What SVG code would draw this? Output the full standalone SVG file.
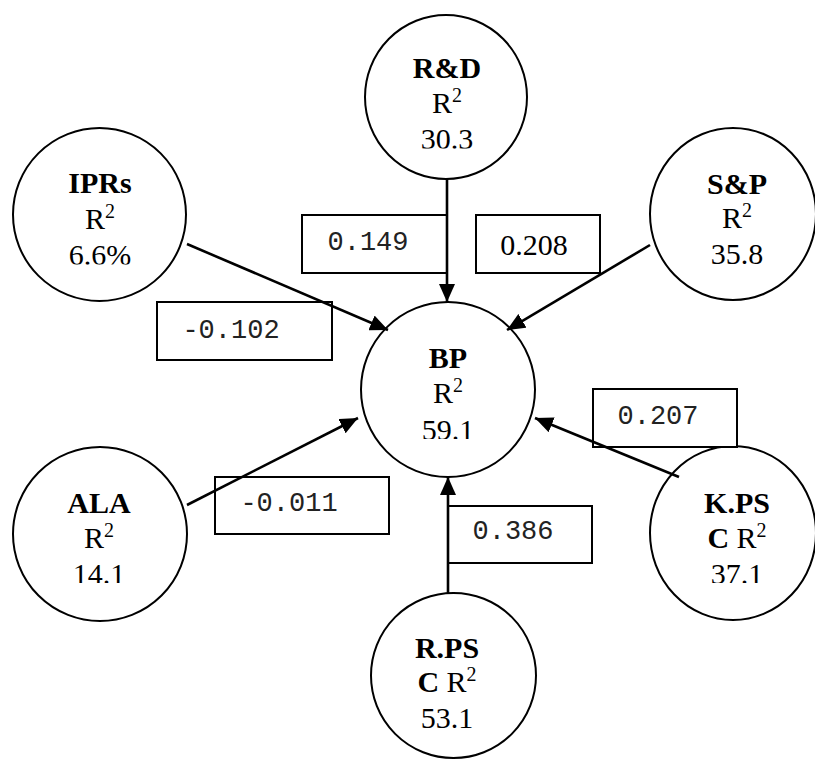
<svg xmlns="http://www.w3.org/2000/svg" width="815" height="762" viewBox="0 0 815 762">
  <style>
    .node { fill: #fff; stroke: #000; stroke-width: 2; }
    .lbl { font-family: "Liberation Serif", "Times New Roman", serif; font-size: 30px; fill: #000; text-anchor: middle; }
    .b { font-weight: bold; }
    .sup { font-size: 20px; }
    .box { fill: #fff; stroke: #000; stroke-width: 2; }
    .coef { font-family: "Liberation Mono", "Courier New", monospace; font-size: 27px; fill: #222; text-anchor: middle; }
    .coefs { font-family: "Liberation Serif", "Times New Roman", serif; font-size: 30px; fill: #000; text-anchor: middle; }
    .edge { stroke: #000; stroke-width: 2.6; fill: none; marker-end: url(#head); }
  </style>
  <defs>
    <marker id="head" markerUnits="userSpaceOnUse" markerWidth="18" markerHeight="16" refX="18" refY="8" orient="auto">
      <path d="M0,0 L18,8 L0,16 z" fill="#000"/>
    </marker>
    <!-- text frames that trim the last line of some nodes -->
    <clipPath id="clipRD"><rect x="360" y="0" width="180" height="148.5"/></clipPath>
    <clipPath id="clipIPR"><rect x="0" y="120" width="200" height="144.5"/></clipPath>
    <clipPath id="clipBP"><rect x="350" y="295" width="200" height="144"/></clipPath>
    <clipPath id="clipALA"><rect x="0" y="440" width="200" height="143"/></clipPath>
    <clipPath id="clipKPS"><rect x="640" y="440" width="175" height="143"/></clipPath>
  </defs>

  <rect width="815" height="762" fill="#fff"/>

  <!-- nodes -->
  <g id="node-rd">
    <ellipse class="node" cx="446" cy="97" rx="81" ry="82"/>
    <g clip-path="url(#clipRD)">
      <text class="lbl b" x="447" y="78">R&amp;D</text>
      <text class="lbl" x="447" y="113">R<tspan class="sup" dy="-11">2</tspan></text>
      <text class="lbl" x="447" y="149">30.3</text>
    </g>
  </g>

  <g id="node-iprs">
    <ellipse class="node" cx="99.5" cy="214.5" rx="86.5" ry="86.5"/>
    <g clip-path="url(#clipIPR)">
      <text class="lbl b" x="100" y="193">IPRs</text>
      <text class="lbl" x="100" y="229">R<tspan class="sup" dy="-11">2</tspan></text>
      <text class="lbl" x="100" y="265">6.6%</text>
    </g>
  </g>

  <g id="node-sp">
    <ellipse class="node" cx="733" cy="214" rx="83" ry="86"/>
    <text class="lbl b" x="737" y="194">S&amp;P</text>
    <text class="lbl" x="737" y="228">R<tspan class="sup" dy="-11">2</tspan></text>
    <text class="lbl" x="737" y="264">35.8</text>
  </g>

  <g id="node-bp">
    <ellipse class="node" cx="448" cy="389.5" rx="87" ry="87.5"/>
    <g clip-path="url(#clipBP)">
      <text class="lbl b" x="448" y="368">BP</text>
      <text class="lbl" x="448" y="403">R<tspan class="sup" dy="-11">2</tspan></text>
      <text class="lbl" x="448" y="440">59.1</text>
    </g>
  </g>

  <g id="node-ala">
    <ellipse class="node" cx="100" cy="534" rx="87" ry="87"/>
    <g clip-path="url(#clipALA)">
      <text class="lbl b" x="99" y="513">ALA</text>
      <text class="lbl" x="99" y="548">R<tspan class="sup" dy="-11">2</tspan></text>
      <text class="lbl" x="99" y="584">14.1</text>
    </g>
  </g>

  <g id="node-kpsc">
    <ellipse class="node" cx="733" cy="533" rx="83" ry="87"/>
    <g clip-path="url(#clipKPS)">
      <text class="lbl b" x="737" y="513">K.PS</text>
      <text class="lbl" x="737" y="548"><tspan class="b">C</tspan> R<tspan class="sup" dy="-11">2</tspan></text>
      <text class="lbl" x="737" y="584">37.1</text>
    </g>
  </g>

  <g id="node-rpsc">
    <ellipse class="node" cx="453.5" cy="675.5" rx="82.5" ry="82.5"/>
    <text class="lbl b" x="447" y="658">R.PS</text>
    <text class="lbl" x="447" y="692"><tspan class="b">C</tspan> R<tspan class="sup" dy="-11">2</tspan></text>
    <text class="lbl" x="447" y="728">53.1</text>
  </g>

  <!-- coefficient labels -->
  <g id="labels">
    <rect class="box" x="302" y="215" width="145" height="58"/>
    <text class="coef" x="368" y="250">0.149</text>

    <rect class="box" x="476" y="215" width="124" height="58"/>
    <text class="coefs" x="534" y="255">0.208</text>

    <rect class="box" x="157" y="302" width="175" height="58"/>
    <text class="coef" x="231" y="338">-0.102</text>

    <rect class="box" x="593" y="389" width="144" height="58"/>
    <text class="coef" x="658" y="424">0.207</text>

    <rect class="box" x="215" y="477" width="174" height="57"/>
    <text class="coef" x="289" y="511">-0.011</text>

    <rect class="box" x="448" y="506" width="144" height="57"/>
    <text class="coef" x="513" y="539">0.386</text>
  </g>

  <!-- connectors -->
  <g id="edges">
    <line class="edge" x1="447" y1="179" x2="447" y2="302"/>
    <line class="edge" x1="187" y1="244" x2="388" y2="330"/>
    <line class="edge" x1="650" y1="245" x2="507" y2="330"/>
    <line class="edge" x1="187" y1="505" x2="358" y2="418"/>
    <line class="edge" x1="679" y1="477" x2="535" y2="418"/>
    <line class="edge" x1="448" y1="593" x2="448" y2="477"/>
  </g>
</svg>
